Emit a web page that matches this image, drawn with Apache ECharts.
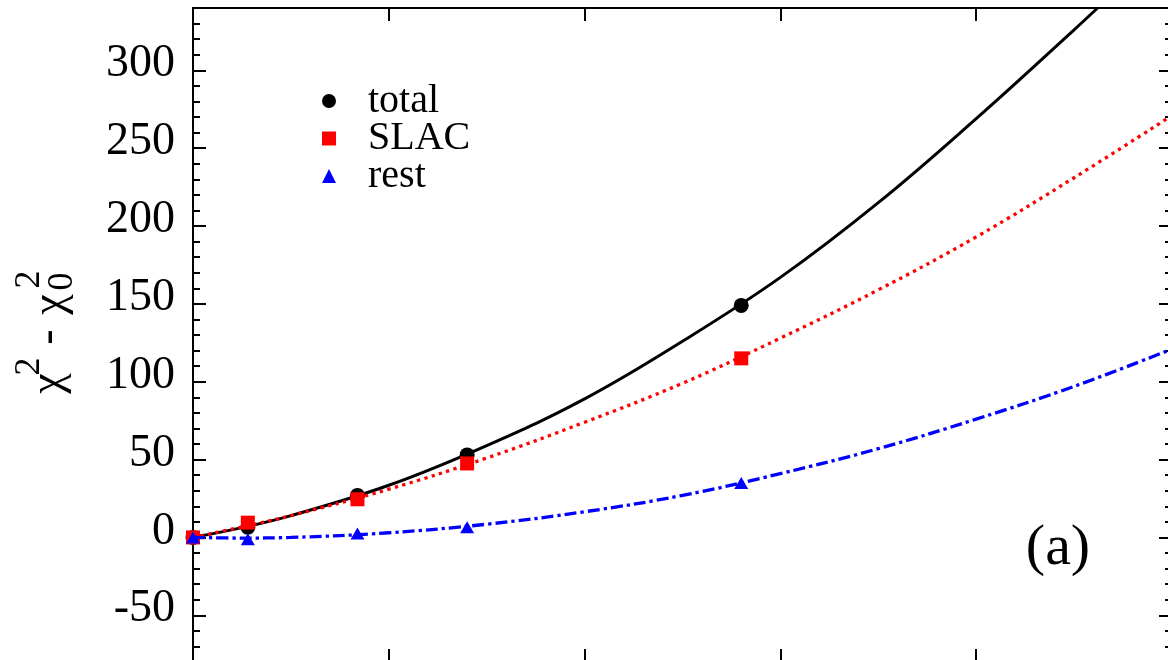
<!DOCTYPE html>
<html>
<head>
<meta charset="utf-8">
<script src="https://cdn.jsdelivr.net/npm/echarts@6/dist/echarts.min.js"></script>
<style>
  html, body { margin: 0; padding: 0; background: #fff; }
  #chart { width: 1168px; height: 660px; }
</style>
</head>
<body>
<div id="chart"></div>
<script>
// Computed points (x in axis units)
const pointX = [0, 0.28, 0.84, 1.40, 2.80];
const totalPoints = [0, 6.5, 27, 53, 149];
const slacPoints = [0, 9.5, 24.5, 47.5, 115];
const restPoints = [0, -1.2, 2.5, 6.6, 35];

// Fitted curves, sampled along x
const totalCurveX = [0, 0.25, 0.5, 1, 1.5, 2, 2.5, 3, 3.5, 4, 4.5, 4.62];
const totalCurve = [0, 6.3, 14, 33.5, 59, 89, 126, 167, 215, 269, 326, 340];
const curveX = [0, 0.25, 0.5, 1, 1.5, 2, 2.5, 3, 3.5, 4, 4.5, 5];
const slacCurve = [0, 6.7, 14, 31, 51, 74, 99, 128, 159, 193, 231, 271];
const restCurve = [0, -0.4, 0, 3, 8.5, 16.5, 27, 41, 57, 76, 97, 121];

// Axis ticks
const xTicks = [0, 1, 2, 3, 4, 5];
const yTicks = [-50, 0, 50, 100, 150, 200, 250, 300];
const yRange = [-80, 340];

const serif = '"Liberation Serif", "Times New Roman", serif';
const zip = (xs, ys) => xs.map((x, i) => [x, ys[i]]);

const tickStyle = { color: '#000', width: 2 };
// two grids share one rectangle: the second one only carries the minor ticks
const gridRect = { left: 193, right: -4, top: 8, bottom: -2, outerBoundsMode: 'none' };

function xAxisDef(position) {
  return {
    type: 'value', gridIndex: 0, position: position,
    min: xTicks[0], max: xTicks[xTicks.length - 1], interval: 1,
    axisLine: { show: true, onZero: false, lineStyle: { color: '#000', width: 2 } },
    axisTick: { inside: true, length: 13, lineStyle: tickStyle },
    axisLabel: { show: false },
    splitLine: { show: false }
  };
}
function yMajor(position, withLabels) {
  return {
    type: 'value', gridIndex: 0, position: position,
    min: yRange[0], max: yRange[1],
    axisLine: { show: true, onZero: false, lineStyle: { color: '#000', width: 2 } },
    axisTick: { inside: true, length: 13, customValues: yTicks, lineStyle: tickStyle },
    axisLabel: withLabels ? {
      show: true, customValues: yTicks, fontFamily: serif, fontSize: 46,
      color: '#000', margin: 18, verticalAlign: 'bottom', lineHeight: 12
    } : { show: false },
    splitLine: { show: false }
  };
}
function yMinor(position) {
  return {
    type: 'value', gridIndex: 1, position: position,
    min: yRange[0], max: yRange[1], interval: 10,
    axisLine: { show: false, onZero: false },
    axisTick: { inside: true, length: 7, lineStyle: tickStyle },
    axisLabel: { show: false },
    splitLine: { show: false }
  };
}

const chart = echarts.init(document.getElementById('chart'));
chart.setOption({
  animation: false,
  grid: [Object.assign({}, gridRect), Object.assign({}, gridRect)],
  xAxis: [
    xAxisDef('bottom'), xAxisDef('top'),
    { type: 'value', gridIndex: 1, show: false, min: 0, max: 5 }
  ],
  yAxis: [yMajor('left', true), yMajor('right', false), yMinor('left'), yMinor('right')],
  legend: {
    orient: 'vertical', left: 322, top: 81, padding: 0,
    itemWidth: 14, itemHeight: 14, itemGap: -2.5,
    textStyle: { fontFamily: serif, fontSize: 40, color: '#000', padding: [0, 0, 0, 27] },
    data: [
      { name: 'total', icon: 'circle' },
      { name: 'SLAC', icon: 'rect' },
      { name: 'rest', icon: 'triangle' }
    ]
  },
  series: [
    { type: 'line', name: 'total fit', data: zip(totalCurveX, totalCurve), smooth: 0.4,
      symbol: 'none', lineStyle: { color: '#000', width: 3 }, z: 2 },
    { type: 'scatter', name: 'total', data: zip(pointX, totalPoints), symbol: 'circle',
      symbolSize: 15, itemStyle: { color: '#000', opacity: 1 }, z: 3 },
    { type: 'line', name: 'SLAC fit', data: zip(curveX, slacCurve), smooth: 0.4,
      symbol: 'none', lineStyle: { color: '#ff0000', width: 3.3, type: [3.3, 4.4] }, z: 4 },
    { type: 'scatter', name: 'SLAC', data: zip(pointX, slacPoints), symbol: 'rect',
      symbolSize: 14, itemStyle: { color: '#ff0000', opacity: 1 }, z: 5 },
    { type: 'line', name: 'rest fit', data: zip(curveX, restCurve), smooth: 0.4,
      symbol: 'none', lineStyle: { color: '#0000ff', width: 3.3, type: [12, 4, 3.3, 4] }, z: 6 },
    { type: 'scatter', name: 'rest', data: zip(pointX, restPoints), symbol: 'triangle',
      symbolSize: [14, 12], itemStyle: { color: '#0000ff', opacity: 1 }, z: 7 }
  ],
  graphic: [
    // vertical axis title: chi^2 - chi_0^2, read bottom to top
    { type: 'text', x: 49, y: 383.5, rotation: Math.PI / 2,
      style: { text: 'χ', font: '46px ' + serif, align: 'center', verticalAlign: 'middle', fill: '#000' } },
    { type: 'text', x: 30, y: 366.5, rotation: Math.PI / 2,
      style: { text: '2', font: '36px ' + serif, align: 'center', verticalAlign: 'middle', fill: '#000' } },
    { type: 'text', x: 49, y: 337, rotation: Math.PI / 2,
      style: { text: '-', font: '46px ' + serif, align: 'center', verticalAlign: 'middle', fill: '#000' } },
    { type: 'text', x: 50.5, y: 304.5, rotation: Math.PI / 2,
      style: { text: 'χ', font: '46px ' + serif, align: 'center', verticalAlign: 'middle', fill: '#000' } },
    { type: 'text', x: 63, y: 281.5, rotation: Math.PI / 2,
      style: { text: '0', font: '36px ' + serif, align: 'center', verticalAlign: 'middle', fill: '#000' } },
    { type: 'text', x: 30, y: 279.5, rotation: Math.PI / 2,
      style: { text: '2', font: '36px ' + serif, align: 'center', verticalAlign: 'middle', fill: '#000' } },
    // panel tag
    { type: 'text', x: 1058, y: 549,
      style: { text: '(a)', font: '58px ' + serif, align: 'center', verticalAlign: 'middle', fill: '#000' } }
  ]
});
</script>
</body>
</html>
